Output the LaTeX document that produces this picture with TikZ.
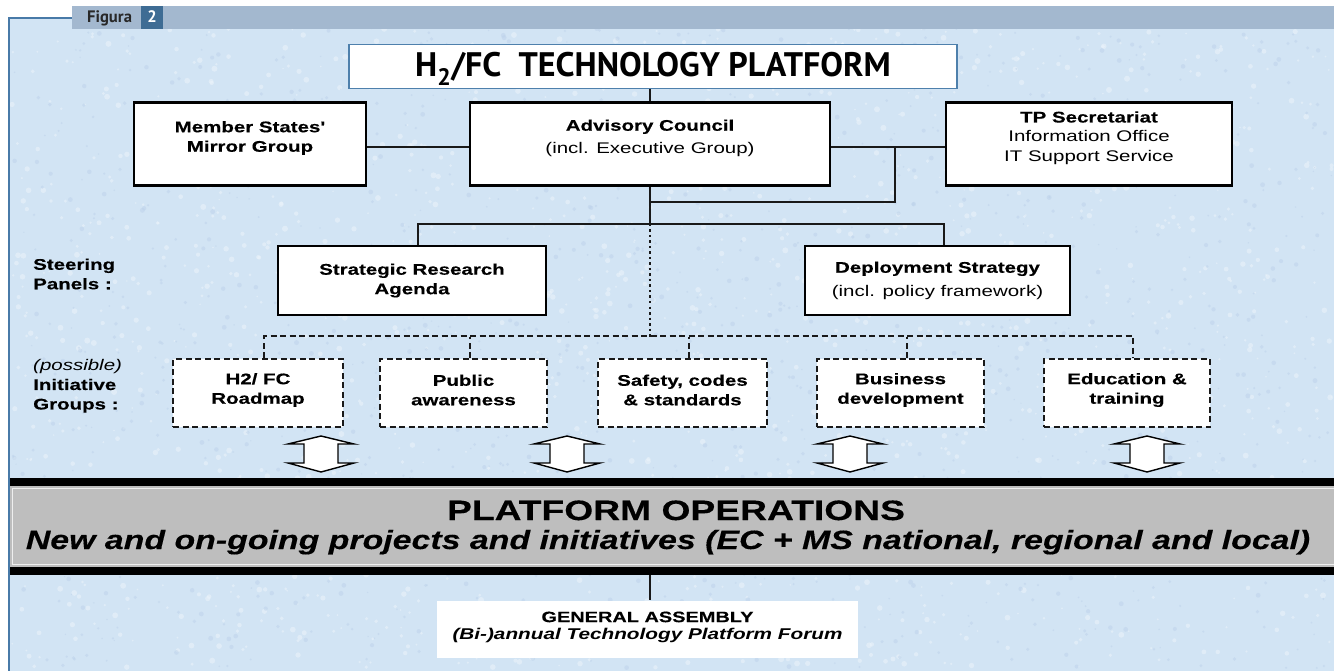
\documentclass[tikz,border=0pt]{standalone}
\usepackage{fontspec}
\newfontfamily\arx[FakeStretch=1.33,BoldFeatures={FakeBold=0.3}]{Liberation Sans}
\newfontfamily\arw[FakeStretch=1.278,BoldFeatures={FakeBold=0.3},BoldItalicFeatures={FakeBold=0.3}]{Liberation Sans}
\newfontfamily\ptf{PT Sans}
\newcommand\bxf{\arx\bfseries\fontsize{15.4}{19.5}\selectfont}
\definecolor{panel}{RGB}{210,228,244}
\definecolor{panelhi}{RGB}{236,244,251}
\definecolor{panello}{RGB}{186,208,233}
\definecolor{pborder}{RGB}{72,122,168}
\definecolor{hdr}{RGB}{163,184,207}
\definecolor{hdrdark}{RGB}{62,108,148}
\definecolor{titleblue}{RGB}{78,128,172}
\definecolor{bargray}{RGB}{190,190,190}
\definecolor{figtext}{RGB}{40,40,40}
\tikzset{
  conn/.style={draw=black!90, line width=2pt},
  sbox/.style={draw=black, line width=2.6pt, fill=white, inner sep=0pt},
  dbox/.style={draw=black!90, line width=2pt, dash pattern=on 6pt off 3.5pt, fill=white, inner sep=0pt, minimum height=68pt},
  txt/.style={align=center, inner sep=0pt, font=\bxf},
  lab/.style={align=left, inner sep=0pt, font=\bxf, anchor=west},
  dconn/.style={draw=black!90, line width=2pt, dash pattern=on 6pt off 3.5pt},
  dotconn/.style={draw=black!90, line width=2.4pt, dash pattern=on 2.5pt off 3pt},
  dblarr/.pic={\draw[black, line width=1.4pt, fill=white, line join=miter]
     (0,-18) -- (33,-10) -- (17,-10) -- (17,9) -- (33,9) -- (0,18) -- (-33,9) -- (-17,9) -- (-17,-10) -- (-33,-10) -- cycle;}
}
\begin{document}
\begin{tikzpicture}[x=1pt,y=-1pt]
\fill[white] (0,0) rectangle (1334,671);
\useasboundingbox (0,0) rectangle (1334,671);
% panel with a light mottled texture
\fill[panel] (9,18) rectangle (1334,671);
\pgfmathsetseed{7}
\foreach \i in {1,...,1800}{
  \pgfmathsetmacro\xx{rnd*1320+12}
  \pgfmathsetmacro\yy{rnd*648+20}
  \pgfmathsetmacro\rr{rnd*2.2+0.8}
  \fill[panelhi, opacity=0.55] (\xx,\yy) circle (\rr pt);
}
\foreach \i in {1,...,1400}{
  \pgfmathsetmacro\xx{rnd*1320+12}
  \pgfmathsetmacro\yy{rnd*648+20}
  \pgfmathsetmacro\rr{rnd*1.8+0.7}
  \fill[panello, opacity=0.45] (\xx,\yy) circle (\rr pt);
}
\draw[pborder, line width=2.4pt] (9,671) -- (9,18) -- (1334,18);
% header
\fill[hdr] (72,6) rectangle (1334,29);
\fill[hdrdark] (141,6) rectangle (163,29);
\node[anchor=base west, inner sep=0pt, text=figtext, font=\ptf\bfseries\fontsize{16.6}{18}\selectfont] (fig) at (87,23) {Figura};
\node[anchor=base, inner sep=0pt, text=white, font=\ptf\bfseries\fontsize{16.6}{18}\selectfont] (fignum) at (152,23) {2};

% title
\node[draw=titleblue, line width=1.5pt, fill=white, minimum width=608pt, minimum height=44pt, inner sep=0pt] (title) at (653,66.5) {};
\node[anchor=base, inner sep=0pt, font=\ptf\bfseries\fontsize{34}{36}\selectfont] (titlet) at (653,77) {H\textsubscript{2}/FC\ \ TECHNOLOGY PLATFORM};

% top row
\node[sbox, minimum width=232pt, minimum height=83pt] (mem) at (250,144) {};
\node[sbox, minimum width=360pt, minimum height=83pt] (adv) at (650,144) {};
\node[sbox, minimum width=286pt, minimum height=83pt] (tp) at (1089,144) {};
\node[txt] (memt) at ([yshift=6pt]mem.center) {Member States'\\Mirror Group};
\node[txt] (advt) at ([yshift=6pt]adv.center) {Advisory Council\\[3pt]\mdseries (incl. Executive Group)};
\node[txt] (tpt) at ([yshift=6pt]tp.center) {TP Secretariat\\\mdseries Information Office\\\mdseries IT Support Service};

% steering
\node[sbox, minimum width=268pt, minimum height=69pt] (sra) at (412,280.5) {};
\node[sbox, minimum width=265pt, minimum height=69pt] (ds) at (937.5,280.5) {};
\node[txt] (srat) at (sra.center) {Strategic Research\\Agenda};
\node[txt] (dst) at (ds.center) {Deployment Strategy\\[4pt]\mdseries (incl. policy framework)};

% initiative groups
\node[dbox, minimum width=170pt] (h2) at (258,393) {};
\node[dbox, minimum width=167pt] (pub) at (463.5,393) {};
\node[dbox, minimum width=169pt] (saf) at (682.5,393) {};
\node[dbox, minimum width=167pt] (bus) at (900.5,393) {};
\node[dbox, minimum width=166pt] (edu) at (1127,393) {};
\node[txt] (h2t) at ([yshift=3pt]h2.center) {H2/ FC\\Roadmap};
\node[txt] (pubt) at ([yshift=3pt]pub.center) {Public\\awareness};
\node[txt] (saft) at ([yshift=3pt]saf.center) {Safety, codes\\\& standards};
\node[txt] (bust) at ([yshift=3pt]bus.center) {Business\\development};
\node[txt] (edut) at ([yshift=3pt]edu.center) {Education \&\\training};

% left labels
\node[lab] (steer) at (33,274) {Steering\\Panels :};
\node[lab] (initg) at (33,386) {{\mdseries\itshape (possible)}\\Initiative\\Groups :};

% connectors
\coordinate (st) at (650,224);
\coordinate (jr) at (895,147);
\coordinate (jm) at (650,202);
\coordinate (dl) at (264,337);
\coordinate (barlow) at (650,575);
\draw[conn] (title.south -| adv.north) -- (adv.north);
\draw[conn] ([yshift=-3pt]mem.east) -- ([yshift=-3pt]adv.west);
\draw[conn] ([yshift=-3pt]adv.east) -- ([yshift=-3pt]tp.west);
\draw[conn] (jr) |- (jm);
\draw[conn] (adv.south) -- (st);
\draw[conn] ([xshift=6pt]sra.north) |- (st) -| ([xshift=6pt]ds.north);
\draw[dotconn] (st) -- (st |- dl);
\draw[dconn] ([xshift=6pt]h2.north) |- ([xshift=6pt,yshift=22pt]edu.north) -- ([xshift=6pt]edu.north);
\draw[dconn] ([xshift=6pt]pub.north) -- ([xshift=6pt]pub.north |- dl);
\draw[dconn] ([xshift=6pt]saf.north) -- ([xshift=6pt]saf.north |- dl);
\draw[dconn] ([xshift=6pt]bus.north) -- ([xshift=6pt]bus.north |- dl);

% arrows
\pic at (321,454) {dblarr};
\pic at (567,454) {dblarr};
\pic at (850,454) {dblarr};
\pic at (1147,454) {dblarr};

% platform operations bar
\fill[black] (10,478) rectangle (1334,486);
\node[fill=bargray, minimum width=1324pt, minimum height=81pt, inner sep=0pt, anchor=north west] (bar) at (10,486) {};
\fill[black] (10,567) rectangle (1334,575);
\draw[white!75!bargray, line width=1.2pt] (1334,488.5) -- (12.5,488.5) -- (12.5,564.5) -- (1334,564.5);
\node[anchor=base, inner sep=0pt, font=\arx\bfseries\fontsize{28}{30}\selectfont] (pot) at (676,520) {PLATFORM OPERATIONS};
\node[anchor=base, inner sep=0pt, font=\arw\bfseries\itshape\fontsize{26.5}{28}\selectfont] (pos) at (668,549) {New and on-going projects and initiatives (EC + MS national, regional and local)};

% general assembly
\node[fill=white, minimum width=421pt, minimum height=57pt, inner sep=0pt] (ga) at (647.5,629) {};
\node[txt, font=\arx\bfseries\fontsize{15}{17}\selectfont] (gat) at ([yshift=2pt]ga.center) {GENERAL ASSEMBLY\\\fontsize{15.6}{17}\selectfont\itshape (Bi-)annual Technology Platform Forum};
\draw[conn, line width=1.6pt] (barlow) -- (barlow |- ga.north);
\end{tikzpicture}
\end{document}
